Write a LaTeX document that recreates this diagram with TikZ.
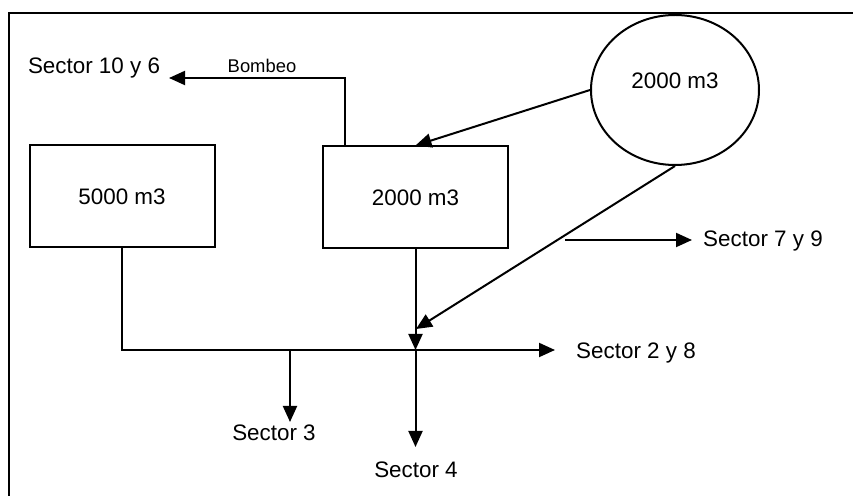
\documentclass[tikz,border=0pt]{standalone}
\usepackage{fontspec}
\setmainfont{Liberation Sans}
\usetikzlibrary{arrows.meta,shapes.geometric}

\begin{document}
\begin{tikzpicture}[x=0.5pt,y=-0.5pt,line width=1pt,>={Triangle[length=8pt,width=7pt]},
    every node/.style={font=\fontsize{11.2}{13}\selectfont,inner sep=0,text depth=0pt},
    tank/.style={draw,minimum width=92.5pt,minimum height=51pt},
    big/.style={draw,ellipse,minimum width=84pt,minimum height=75pt,text depth=9pt}]
        \useasboundingbox (0,0) rectangle (853,496);
        \draw (9,496) |- (853,13);
        \node[tank] (1) at (122,196.5) {5000 m3};
        \node[tank] (2) at (415.5,197.5) {2000 m3};
        \node[big] (3) at (675,90) {2000 m3};
        \node (s106) at (94,66) {Sector 10 y 6};
        \node[font=\fontsize{9.2}{11}\selectfont] (bombeo) at (262,66) {Bombeo};
        \node (s79) at (763,239) {Sector 7 y 9};
        \node (s28) at (636,351) {Sector 2 y 8};
        \node (s3) at (274,433) {Sector 3};
        \node (s4) at (416,470) {Sector 4};
        \coordinate (bp) at (345,78);
        \coordinate (e106) at (169,78);
        \coordinate (k) at (416,329);
        \coordinate (j) at (415.5,350);
        \coordinate (e28) at (555,350);
        \coordinate (b3) at (290,350);
        \coordinate (e3) at (290,422);
        \coordinate (e4) at (415.5,447);
        \coordinate (b79) at (565,240);
        \coordinate (e79) at (692,240);
        \draw[->] (2.north -| bp) |- (e106);
        \draw[->] (3.west) -- (2.north);
        \draw[->] (3.south) -- (k);
        \draw[->] (2.south) -- (j);
        \draw[->] (1.south) |- (e28);
        \draw[->] (b3) -- (e3);
        \draw[->] (j) -- (e4);
        \draw[->] (b79) -- (e79);
      \end{tikzpicture}
\end{document}
